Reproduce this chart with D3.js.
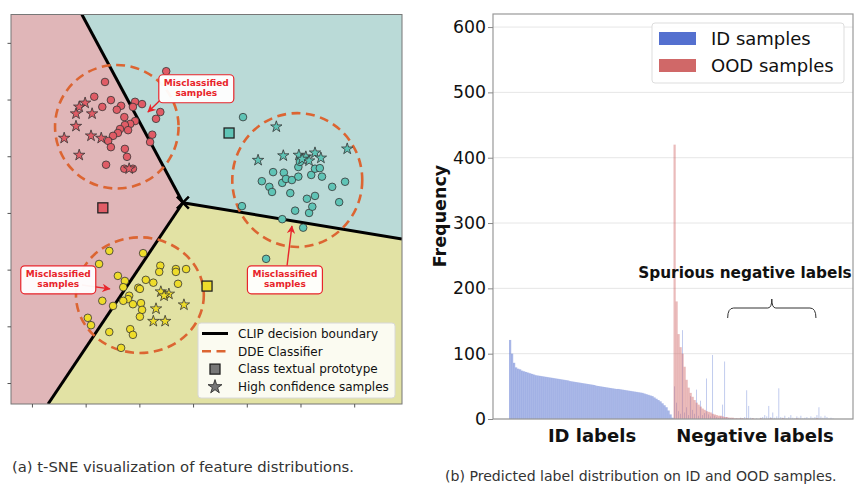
<!DOCTYPE html>
<html>
<head>
<meta charset="utf-8">
<script src="https://cdn.jsdelivr.net/npm/d3@7"></script>
<style>
  body { margin: 0; background: #fff; }
  svg { display: block; }
  text { font-family: "DejaVu Sans", sans-serif; }
</style>
</head>
<body>
<div id="chart"></div>
<script>
// ---------- panel (a): t-SNE points ----------
var redPts = [[-5.0,25.0],[-16.4,23.1],[-18.4,20.5],[-15.3,19.9],[-10.8,19.6],[-9.5,19.2],[-16.9,18.7],[-13.4,18.9],
  [-14.2,18.2],[-11.2,18.7],[-6.1,17.8],[-12.8,16.9],[-6.9,16.6],[-10.8,16.2],[-11.7,15.7],[-12.7,15.5],[-13.6,14.8],
  [-12.1,14.6],[-14.0,14.1],[-14.9,13.6],[-7.6,13.8],[-15.8,12.7],[-8.0,12.5],[-15.3,11.6],[-12.7,11.3],[-12.3,9.9],
  [-16.2,8.5],[-12.8,7.8],[-11.2,7.8]];
var redStars = [[-20.1,19.4],[-21.2,18.7],[-21.8,17.5],[-18.8,17.5],[-21.8,15.3],[-24.0,13.2],[-19.0,13.6],[-17.1,13.2],
  [-21.2,10.2],[-11.9,7.8]];
var tealPts = [[9.3,16.9],[14.9,7.2],[16.9,7.1],[12.8,5.6],[14.2,4.6],[14.7,3.7],[16.6,5.3],[17.3,6.0],[18.4,5.8],
  [19.6,6.4],[19.6,8.1],[19.9,9.0],[22.0,6.7],[22.7,7.8],[23.6,7.9],[24.0,6.4],[25.9,4.6],[28.3,5.5],[18.1,3.5],
  [21.2,2.5],[22.7,3.0],[27.2,1.9],[9.1,1.2],[19.0,0.4],[21.6,0.0],[22.2,1.1],[16.6,-1.1],[20.5,-2.6],[13.6,-8.1]];
var tealStars = [[15.5,15.2],[12.1,9.3],[16.8,10.1],[19.7,10.2],[21.0,9.9],[22.7,10.6],[23.8,9.7],[21.6,9.2],[20.3,9.5],
  [28.7,11.3]];
var yellowPts = [[-15.6,-6.7],[-9.3,-7.1],[-17.5,-9.0],[-6.1,-9.3],[-6.3,-10.4],[-3.2,-9.9],[-3.2,-10.4],[-1.3,-9.9],
  [-14.0,-11.1],[-12.7,-12.0],[-8.8,-11.8],[-7.4,-12.3],[-2.8,-12.5],[-13.0,-13.1],[-10.2,-13.2],[-9.9,-13.4],
  [-11.9,-14.6],[-12.1,-15.2],[-16.9,-15.5],[-13.0,-15.5],[-11.2,-16.1],[-9.7,-15.9],[-14.9,-16.4],[-9.5,-17.1],
  [-9.9,-18.3],[-19.6,-18.5],[-19.0,-19.8],[-15.6,-21.0],[-11.7,-20.5],[-11.2,-21.5],[-13.4,-23.8],[-5.2,-14.5]];
var yellowStars = [[-6.0,-13.9],[-4.5,-14.3],[-5.4,-14.6],[-6.9,-16.9],[-1.7,-16.2],[-7.4,-19.1],[-5.2,-19.1]];
var prototypes = [[-16.8,0.9],[6.7,14.1],[2.6,-12.9]];
// DDE circles: centre x, centre y, radius x, radius y
var ddeCircles = [[-14.2,15.2,11.5,10.9],[19.4,5.8,12.1,11.8],[-9.9,-14.5,11.9,10.2]];
var junction = [-1.9,1.8], bTop = [-20.7,35.0], bLeft = [-27.0,-33.7], bRight = [38.9,-4.6];
// misclassified notes: box centre, arrow tail, arrow head
var notes = [
  [[0.6,21.9],[-6.1,19.9],[-8.4,17.8]],
  [[-25.1,-11.8],[-20.7,-12.7],[-15.5,-13.4]],
  [[17.1,-11.8],[17.5,-9.3],[18.4,-2.3]]
];
var tsneTicks = [-30,-20,-10,0,10,20,30];
var legendA = ["CLIP decision boundary","DDE Classifier","Class textual prototype","High confidence samples"];

// ---------- panel (b): label frequency ----------
var idFreq = [121,100,86,79,77,76,74,73,72,71,70,69,68,67,66.5,66,65.5,65,64.5,64,63.5,63,62.5,62,61.5,61,60.5,60,
  59.5,59,58,57.5,57,56.5,56,55.5,55,54.5,54,53.5,53,52.5,52,51,50.5,50,49.5,49,48.5,48,47.5,47,46.5,46,46,45.5,45,
  44.5,44,43.5,43,42.5,42,41.5,41,40.5,40,39,38,37,36,35,33,31,29,27,24,21,18,13,7,2];
var negIdFreq = [50,25,12,8,136,10,18,6,35,14,8,45,5,28,6,9,62,7,4,98,5,3,2,4,22,88,3,2,1,1,0,1,0,2,1,3,44,20,2,1,
  0,1,0,2,3,6,4,20,3,10,2,4,47,3,2,5,1,3,6,2,1,4,2,5,1,2,3,1,4,2,3,6,18,4,2,5,3,1,2,1,0];
var negOodFreq = [420,180,130,110,100,80,60,48,40,34,29,25,22,19,16,14,12,11,10,8,7,6,5,5,4,3,3,2,2,2,1,1,1,1,1,0,1,
  0,0,1,0,0,0,1,0,0,0,0,1,0,0,0,0,0,1,0,0,0,0,0,0,1,0,0,0,0,0,0,0,0,0,1,0,0,0,0,0,0,0,0,0];
var freqTicks = [0,100,200,300,400,500,600];
var legendB = ["ID samples","OOD samples"];

var W = 864, H = 488;
var svg = d3.select("#chart").append("svg").attr("width", W).attr("height", H);
svg.append("rect").attr("width", W).attr("height", H).attr("fill", "#fff");

var defs = svg.append("defs");
defs.append("marker").attr("id", "arr").attr("viewBox", "0 0 10 10").attr("refX", 9).attr("refY", 5)
  .attr("markerWidth", 6).attr("markerHeight", 6).attr("orient", "auto-start-reverse")
  .append("path").attr("d", "M0,0 L10,5 L0,10 L3,5 Z").attr("fill", "#e8252b");

// ===================== panel (a) =====================
var xA = d3.scaleLinear().domain([-33.9, 38.9]).range([11, 402]);
var yA = d3.scaleLinear().domain([-33.7, 35.0]).range([404, 14.5]);
var x0 = xA.domain()[0], x1 = xA.domain()[1], y0 = yA.domain()[0], y1 = yA.domain()[1];
var pt = function(d){ return [xA(d[0]), yA(d[1])]; };

defs.append("clipPath").attr("id", "clipA").append("rect")
  .attr("x", xA(x0)).attr("y", yA(y1)).attr("width", xA(x1) - xA(x0)).attr("height", yA(y0) - yA(y1));

var gA = svg.append("g").attr("clip-path", "url(#clipA)");
var regions = [
  { fill: "#e0b6b8", pts: [[x0,y1], bTop, junction, bLeft, [x0,y0]] },
  { fill: "#badad7", pts: [bTop, [x1,y1], [x1,bRight[1]], junction] },
  { fill: "#e2e2a4", pts: [junction, bRight, [x1,y0], bLeft] }
];
gA.selectAll(".region").data(regions).enter().append("polygon")
  .attr("points", function(d){ return d.pts.map(pt).join(" "); })
  .attr("fill", function(d){ return d.fill; });

// CLIP boundary
[bTop, bLeft, bRight].forEach(function(e){
  gA.append("line").attr("x1", xA(junction[0])).attr("y1", yA(junction[1]))
    .attr("x2", xA(e[0])).attr("y2", yA(e[1])).attr("stroke", "#000").attr("stroke-width", 3);
});
var jx = xA(junction[0]), jy = yA(junction[1]);
gA.append("path").attr("d", "M" + (jx-6) + "," + (jy-6) + "L" + (jx+6) + "," + (jy+6) + "M" + (jx-6) + "," + (jy+6) + "L" + (jx+6) + "," + (jy-6))
  .attr("stroke", "#000").attr("stroke-width", 2.5);

// DDE dashed circles
gA.selectAll(".dde").data(ddeCircles).enter().append("ellipse")
  .attr("cx", function(d){ return xA(d[0]); }).attr("cy", function(d){ return yA(d[1]); })
  .attr("rx", function(d){ return xA(d[2]) - xA(0); }).attr("ry", function(d){ return yA(0) - yA(d[3]); })
  .attr("fill", "none").attr("stroke", "#dc6532").attr("stroke-width", 2.6).attr("stroke-dasharray", "9,5.5");

var clusters = [
  { pts: redPts, stars: redStars, fill: "#e05c66" },
  { pts: tealPts, stars: tealStars, fill: "#5fc4b6" },
  { pts: yellowPts, stars: yellowStars, fill: "#eedc2a" }
];
var starPath = d3.symbol(d3.symbolStar, 40)();
clusters.forEach(function(c, i){
  gA.selectAll(null).data(c.pts).enter().append("circle")
    .attr("cx", function(d){ return xA(d[0]); }).attr("cy", function(d){ return yA(d[1]); })
    .attr("r", 3.8).attr("fill", c.fill).attr("stroke", "#333").attr("stroke-width", 0.8);
  gA.selectAll(null).data(c.stars).enter().append("path")
    .attr("transform", function(d){ return "translate(" + pt(d) + ")"; })
    .attr("d", starPath).attr("fill", c.fill).attr("stroke", "#333").attr("stroke-width", 0.8);
  var p = prototypes[i];
  gA.append("rect").attr("x", xA(p[0]) - 5).attr("y", yA(p[1]) - 5).attr("width", 10).attr("height", 10)
    .attr("fill", c.fill).attr("stroke", "#222").attr("stroke-width", 1.3);
});

// misclassified annotations
notes.forEach(function(n){
  gA.append("line").attr("x1", xA(n[1][0])).attr("y1", yA(n[1][1])).attr("x2", xA(n[2][0])).attr("y2", yA(n[2][1]))
    .attr("stroke", "#e8252b").attr("stroke-width", 1.4).attr("marker-end", "url(#arr)");
  var cx = xA(n[0][0]), cy = yA(n[0][1]);
  gA.append("rect").attr("x", cx - 37.5).attr("y", cy - 14).attr("width", 75).attr("height", 28).attr("rx", 4)
    .attr("fill", "#fff").attr("fill-opacity", 0.95).attr("stroke", "#e8252b").attr("stroke-width", 1.2);
  var t = gA.append("text").attr("x", cx).attr("y", cy - 3).attr("text-anchor", "middle")
    .attr("font-size", 9).attr("font-weight", "bold").attr("fill", "#e8252b");
  t.append("tspan").attr("x", cx).text("Misclassified");
  t.append("tspan").attr("x", cx).attr("dy", 10.5).text("samples");
});

// legend (a)
var lgA = svg.append("g");
lgA.append("rect").attr("x", 198).attr("y", 323).attr("width", 197).attr("height", 75).attr("rx", 3)
  .attr("fill", "#fff").attr("fill-opacity", 0.85).attr("stroke", "#d8d8d8");
legendA.forEach(function(label, i){
  var y = 333.5 + i * 17.8;
  if (i === 0) lgA.append("line").attr("x1", 202).attr("x2", 228).attr("y1", y).attr("y2", y).attr("stroke", "#000").attr("stroke-width", 3);
  if (i === 1) lgA.append("line").attr("x1", 202).attr("x2", 228).attr("y1", y).attr("y2", y).attr("stroke", "#dc6532").attr("stroke-width", 2.6).attr("stroke-dasharray", "9,5.5");
  if (i === 2) lgA.append("rect").attr("x", 210).attr("y", y - 5).attr("width", 10).attr("height", 10).attr("fill", "#777").attr("stroke", "#222").attr("stroke-width", 1.3);
  if (i === 3) lgA.append("path").attr("transform", "translate(215," + y + ")").attr("d", d3.symbol(d3.symbolStar, 60)()).attr("fill", "#777").attr("stroke", "#222").attr("stroke-width", 0.8);
  lgA.append("text").attr("x", 238).attr("y", y + 4.3).attr("font-size", 12).attr("fill", "#111").text(label);
});

// frame + ticks (a)
svg.append("rect").attr("x", xA(x0)).attr("y", yA(y1)).attr("width", xA(x1) - xA(x0)).attr("height", yA(y0) - yA(y1))
  .attr("fill", "none").attr("stroke", "#777").attr("stroke-width", 1);
var axA1 = svg.append("g").attr("transform", "translate(" + xA(x0) + ",0)")
  .call(d3.axisLeft(yA).tickValues(tsneTicks).tickSize(3.5).tickFormat(""));
var axA2 = svg.append("g").attr("transform", "translate(0," + yA(y0) + ")")
  .call(d3.axisBottom(xA).tickValues(tsneTicks).tickSize(3.5).tickFormat(""));
[axA1, axA2].forEach(function(a){ a.select(".domain").remove(); a.selectAll("line").attr("stroke", "#555"); });

// ===================== panel (b) =====================
var nId = idFreq.length, nNeg = negIdFreq.length;
var labelIdx = d3.range(nId + nNeg);
var xB = d3.scaleBand().domain(labelIdx).range([509, 836]).padding(0);
var yB = d3.scaleLinear().domain([0, 620]).range([419, 14]);
var left = 493, right = 853;

var gB = svg.append("g");
gB.selectAll(".grid").data(freqTicks).enter().append("line")
  .attr("x1", left).attr("x2", right).attr("y1", function(d){ return yB(d); }).attr("y2", function(d){ return yB(d); })
  .attr("stroke", "#e6e6e6").attr("stroke-width", 1);

// ID samples on ID labels (dense), then on negative labels (thin, sparse spikes)
gB.selectAll(".bid").data(idFreq).enter().append("rect")
  .attr("x", function(d, i){ return xB(i); }).attr("width", xB.bandwidth() + 0.2)
  .attr("y", function(d){ return yB(d); }).attr("height", function(d){ return yB(0) - yB(d); })
  .attr("fill", "#5470cf").attr("fill-opacity", 0.5);
gB.selectAll(".bneg").data(negIdFreq).enter().append("rect")
  .attr("x", function(d, i){ return xB(nId + i) + 0.6; }).attr("width", 0.8)
  .attr("y", function(d){ return yB(d); }).attr("height", function(d){ return yB(0) - yB(d); })
  .attr("fill", "#5470cf").attr("fill-opacity", 0.45);
gB.selectAll(".bood").data(negOodFreq).enter().append("rect")
  .attr("x", function(d, i){ return xB(nId + i); }).attr("width", xB.bandwidth() + 0.2)
  .attr("y", function(d){ return yB(d); }).attr("height", function(d){ return yB(0) - yB(d); })
  .attr("fill", "#d06868").attr("fill-opacity", 0.45);

// spines
gB.append("rect").attr("x", left).attr("y", 14).attr("width", right - left).attr("height", 405)
  .attr("fill", "none").attr("stroke", "#999").attr("stroke-width", 1.2);

var axB = svg.append("g").attr("transform", "translate(" + left + ",0)")
  .call(d3.axisLeft(yB).tickValues(freqTicks).tickSize(5).tickPadding(2));
axB.select(".domain").remove();
axB.selectAll("line").attr("stroke", "#888");
axB.selectAll("text").attr("font-size", 17.3).attr("fill", "#111").attr("font-family", "DejaVu Sans");

svg.append("text").attr("transform", "translate(446,216) rotate(-90)").attr("text-anchor", "middle")
  .attr("font-size", 17.5).attr("font-weight", "bold").attr("fill", "#111").text("Frequency");
svg.append("text").attr("x", 592).attr("y", 442).attr("text-anchor", "middle")
  .attr("font-size", 18).attr("font-weight", "bold").attr("fill", "#111").text("ID labels");
svg.append("text").attr("x", 755).attr("y", 442).attr("text-anchor", "middle")
  .attr("font-size", 18).attr("font-weight", "bold").attr("fill", "#111").text("Negative labels");
svg.append("text").attr("x", 745).attr("y", 278).attr("text-anchor", "middle")
  .attr("font-size", 15.3).attr("font-weight", "bold").attr("fill", "#111").text("Spurious negative labels");

// brace over the spurious labels
var bx0 = xB(nId + 27), bx1 = xB(nId + 71), bm = (bx0 + bx1) / 2;
svg.append("path")
  .attr("d", "M" + bx0 + ",318 Q" + bx0 + ",308 " + (bx0 + 6) + ",308 L" + (bm - 4) + ",308 Q" + bm + ",308 " + bm + ",299" +
        " Q" + bm + ",308 " + (bm + 4) + ",308 L" + (bx1 - 6) + ",308 Q" + bx1 + ",308 " + bx1 + ",318")
  .attr("fill", "none").attr("stroke", "#333").attr("stroke-width", 1);

// legend (b)
var lgB = svg.append("g");
lgB.append("rect").attr("x", 652).attr("y", 23).attr("width", 192).attr("height", 60).attr("rx", 3)
  .attr("fill", "#fff").attr("fill-opacity", 0.9).attr("stroke", "#dddddd");
legendB.forEach(function(label, i){
  var y = 38.5 + i * 27;
  lgB.append("rect").attr("x", 659).attr("y", y - 6.5).attr("width", 37).attr("height", 13)
    .attr("fill", i === 0 ? "#5470cf" : "#d06868");
  lgB.append("text").attr("x", 711).attr("y", y + 6.3).attr("font-size", 18).attr("fill", "#111").text(label);
});

// captions
svg.append("text").attr("x", 12).attr("y", 472).attr("font-family", "Roboto").attr("font-size", 14.8).attr("fill", "#333")
  .text("(a) t-SNE visualization of feature distributions.");
svg.append("text").attr("x", 445).attr("y", 481).attr("font-family", "Roboto").attr("font-size", 14.1).attr("fill", "#333")
  .text("(b) Predicted label distribution on ID and OOD samples.");
</script>
</body>
</html>
